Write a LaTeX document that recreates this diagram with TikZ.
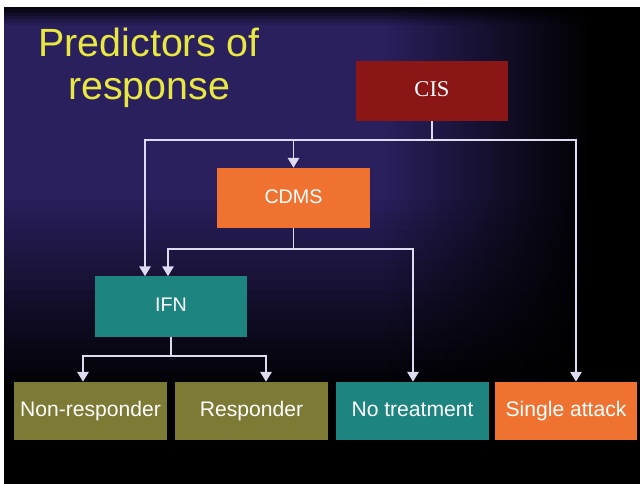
\documentclass[tikz,border=0pt]{standalone}
\usepackage{fontspec}
\setmainfont{Liberation Sans}
\newfontfamily\cisfont{Liberation Serif}
\usetikzlibrary{arrows.meta}

\definecolor{slidenavy}{RGB}{42,32,94}
\definecolor{titleyellow}{RGB}{232,232,64}
\definecolor{cisred}{RGB}{138,22,22}
\definecolor{cdmsorange}{RGB}{240,114,48}
\definecolor{ifnteal}{RGB}{30,132,128}
\definecolor{resolive}{RGB}{125,122,54}
\definecolor{linkgray}{RGB}{222,218,240}

\begin{document}
\begin{tikzpicture}[x=0.025cm,y=-0.025cm,>={Triangle[length=7pt,width=8pt]},
  box/.style={draw=none,minimum width=3.82cm,minimum height=1.5cm,inner sep=0pt,text=white,
    text height=0.72em,text depth=0pt},
  midbox/.style={box,font=\fontsize{14}{16}\selectfont},
  endbox/.style={box,minimum height=1.45cm,font=\fontsize{15}{17}\selectfont},
  link/.style={draw=linkgray,line width=1.4pt},
  arr/.style={link,->}]
\useasboundingbox (0,0) rectangle (640,484);
% slide background
\fill[black] (0,0) rectangle (640,484);
\fill[slidenavy] (4,7) rectangle (381,400);
\shade[left color=slidenavy, right color=black] (380,7) rectangle (592,400);
% darker band along the top
\foreach \i in {0,...,5}
  \fill[black,opacity=0.85-0.15*\i] (4,7+3*\i) rectangle (640,10+3*\i);
% fade to black towards the bottom
\foreach \i in {1,...,20}
  \fill[black,opacity=0.05*\i] (4,190+10*\i) rectangle (640,200+10*\i);
% white page edge
\fill[white] (0,0) rectangle (640,7);
\fill[white] (0,0) rectangle (4,484);
% title
\node[text=titleyellow,align=center,inner sep=0pt,font=\fontsize{28}{30.5}\selectfont] (title) at (149,68) {Predictors of\\response};
% boxes
\node[midbox,fill=cisred,font=\cisfont\fontsize{16}{18}\selectfont] (cis) at (432,91) {CIS};
\node[midbox,fill=cdmsorange] (cdms) at (293.5,198) {CDMS};
\node[midbox,fill=ifnteal] (ifn) at (171,306.5) {IFN};
\node[endbox,fill=resolive] (nonresp) at (90.5,411) {Non-responder};
\node[endbox,fill=resolive] (resp) at (251.5,411) {Responder};
\node[endbox,fill=ifnteal] (notreat) at (412.5,411) {No treatment};
\node[endbox,fill=cdmsorange,minimum width=3.55cm] (single) at (566,411) {Single attack};
% branch points
\coordinate (cisL) at (145,140);
\coordinate (cisR) at (576,140);
\coordinate (cdmsL) at (168,249);
\coordinate (cdmsR) at (413,249);
\coordinate (ifnL) at (83,356);
\coordinate (ifnR) at (266,356);
% connectors
\draw[arr] (cis.south) |- (cisL) -- (cisL |- ifn.north);
\draw[arr] (cis.south) |- (cisR) -- (cisR |- single.north);
\draw[arr] (cis.south) |- (cdms.north |- cisL) -- (cdms.north);
\draw[arr] (cdms.south) |- (cdmsL) -- (cdmsL |- ifn.north);
\draw[arr] (cdms.south) |- (cdmsR) -- (cdmsR |- notreat.north);
\draw[arr] (ifn.south) |- (ifnL) -- (ifnL |- nonresp.north);
\draw[arr] (ifn.south) |- (ifnR) -- (ifnR |- resp.north);
\end{tikzpicture}
\end{document}
